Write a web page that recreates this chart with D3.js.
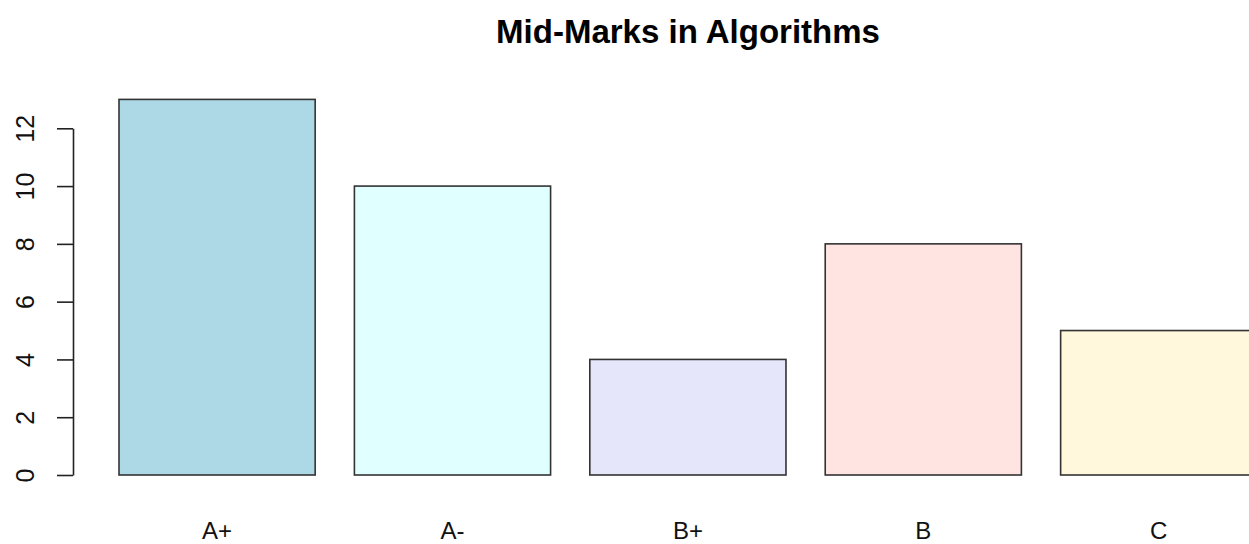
<!DOCTYPE html>
<html>
<head>
<meta charset="utf-8">
<style>
body { margin: 0; background: #ffffff; }
#thevis { display: block; background-color: #ffffff; }
</style>
</head>
<body>
<svg id="thevis" width="1249" height="544"></svg>
<script src="https://cdn.jsdelivr.net/npm/d3@7"></script>
<script>

// grades and how many students got each one
var grades = ["A+", "A-", "B+", "B", "C"];
var counts = [13, 10, 4, 8, 5];
var barColors = ["#add8e6", "#e0ffff", "#e6e6fa", "#ffe4e1", "#fff8dc"];
var yTicks = [0, 2, 4, 6, 8, 10, 12];
var title = "Mid-Marks in Algorithms";

var svg = d3.select("#thevis"),
	width = +svg.attr("width"),
	height = +svg.attr("height");

// R style barplot, space = 0.2 between bars
var x = d3.scaleBand()
	.domain(grades)
	.range([119, 1256.8])
	.paddingInner(1 / 6)
	.paddingOuter(0);

var y = d3.scaleLinear()
	.domain([0, 12])
	.range([475, 128.3]);

var color = d3.scaleOrdinal()
	.domain(grades)
	.range(barColors);

// bars
svg.append("g")
	.selectAll("rect")
	.data(grades)
	.enter().append("rect")
		.attr("x", function(d) { return x(d); })
		.attr("y", function(d, i) { return y(counts[i]); })
		.attr("width", x.bandwidth())
		.attr("height", function(d, i) { return y(0) - y(counts[i]); })
		.attr("fill", function(d) { return color(d); })
		.attr("stroke", "#333333")
		.attr("stroke-width", 1.6);

// y axis, R puts the labels rotated and parallel to the axis
var yAxis = svg.append("g")
	.attr("transform", "translate(73,0)")
	.call(d3.axisLeft(y).tickValues(yTicks).tickSize(16).tickSizeOuter(0).tickPadding(0));

yAxis.select(".domain")
	.attr("stroke", "#222222")
	.attr("stroke-width", 1.6);
yAxis.selectAll(".tick line")
	.attr("stroke", "#222222")
	.attr("stroke-width", 1.6);
yAxis.selectAll(".tick text")
	.attr("x", 0)
	.attr("dy", 0)
	.attr("transform", "translate(-39.5,0) rotate(-90)")
	.attr("text-anchor", "middle")
	.attr("fill", "#111111")
	.attr("font-family", "Liberation Sans, Arial, sans-serif")
	.attr("font-size", "25px");

// category labels, no axis line in the R plot
svg.append("g")
	.selectAll("text")
	.data(grades)
	.enter().append("text")
		.attr("x", function(d) { return x(d) + x.bandwidth() / 2; })
		.attr("y", 539)
		.attr("text-anchor", "middle")
		.attr("fill", "#111111")
		.attr("font-family", "Liberation Sans, Arial, sans-serif")
		.attr("font-size", "24px")
		.text(function(d) { return d; });

// title
svg.append("text")
	.attr("x", 688)
	.attr("y", 43)
	.attr("text-anchor", "middle")
	.attr("font-family", "Liberation Sans, Arial, sans-serif")
	.attr("font-weight", "bold")
	.attr("font-size", "33px")
	.attr("fill", "#000000")
	.text(title);

</script>
</body>
</html>
